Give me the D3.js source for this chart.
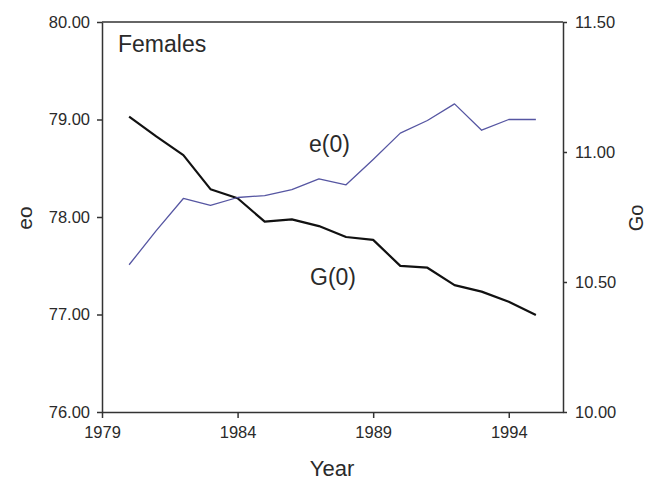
<!DOCTYPE html>
<html>
<head>
<meta charset="utf-8">
<script src="https://cdn.jsdelivr.net/npm/d3@7"></script>
<style>
  html, body { margin: 0; padding: 0; background: #fff; }
  svg { display: block; font-family: "Liberation Sans", Arial, sans-serif; }
</style>
</head>
<body>
<svg id="chart" width="646" height="481"></svg>
<script>
// Female life expectancy at birth e(0) and G(0), 1980–1995
const years = [1980, 1981, 1982, 1983, 1984, 1985, 1986, 1987, 1988, 1989, 1990, 1991, 1992, 1993, 1994, 1995];
const e0 = [77.51, 77.86, 78.19, 78.12, 78.20, 78.22, 78.28, 78.39, 78.33, 78.59, 78.86, 78.99, 79.16, 78.89, 79.00, 79.00];
const g0 = [11.136, 11.06, 10.988, 10.857, 10.822, 10.732, 10.741, 10.715, 10.673, 10.662, 10.562, 10.555, 10.488, 10.463, 10.424, 10.373];
const yearTicks = [1979, 1984, 1989, 1994];
const eTicks = [76, 77, 78, 79, 80];
const gTicks = [10.0, 10.5, 11.0, 11.5];

const svg = d3.select("#chart");
const plotLeft = 102, plotRight = 563, plotTop = 22, plotBottom = 412;
const axisColor = "#333";
const textColor = "#2a2a2a";

const x = d3.scaleLinear().domain([1979, 1996]).range([plotLeft, plotRight]);
const yE = d3.scaleLinear().domain([76, 80]).range([plotBottom, plotTop]);
const yG = d3.scaleLinear().domain([10, 11.5]).range([plotBottom, plotTop]);

function styleAxis(g) {
  g.selectAll("path, line").attr("stroke", axisColor).attr("stroke-width", 1.5);
  g.selectAll("text").attr("fill", textColor).attr("font-size", 16.5)
    .attr("font-family", "'Liberation Sans', Arial, sans-serif");
}

// bottom axis
svg.append("g").attr("transform", `translate(0,${plotBottom})`)
  .call(d3.axisBottom(x).tickValues(yearTicks).tickFormat(d3.format("d")).tickSizeInner(6).tickSizeOuter(0).tickPadding(8))
  .call(styleAxis);

// left axis
svg.append("g").attr("transform", `translate(${plotLeft},0)`)
  .call(d3.axisLeft(yE).tickValues(eTicks).tickFormat(d3.format(".2f")).tickSizeInner(5).tickSizeOuter(0).tickPadding(7))
  .call(styleAxis);

// right axis
svg.append("g").attr("transform", `translate(${plotRight},0)`)
  .call(d3.axisRight(yG).tickValues(gTicks).tickFormat(d3.format(".2f")).tickSizeInner(4).tickSizeOuter(0).tickPadding(8))
  .call(styleAxis);

// top frame line
svg.append("line")
  .attr("x1", plotLeft).attr("x2", plotRight).attr("y1", plotTop).attr("y2", plotTop)
  .attr("stroke", axisColor).attr("stroke-width", 1.5);

// series lines
const lineE = d3.line().x((d, i) => x(years[i])).y(d => yE(d));
const lineG = d3.line().x((d, i) => x(years[i])).y(d => yG(d));

svg.append("path").datum(g0)
  .attr("d", lineG).attr("fill", "none")
  .attr("stroke", "#111").attr("stroke-width", 2.2).attr("stroke-linejoin", "round");

svg.append("path").datum(e0)
  .attr("d", lineE).attr("fill", "none")
  .attr("stroke", "#5656a2").attr("stroke-width", 1.3).attr("stroke-linejoin", "round");

// annotations
svg.append("text").attr("x", 118).attr("y", 52).attr("font-size", 23).attr("fill", textColor).text("Females");
svg.append("text").attr("x", 309).attr("y", 152).attr("font-size", 23).attr("fill", textColor).text("e(0)");
svg.append("text").attr("x", 310).attr("y", 285).attr("font-size", 23).attr("fill", textColor).text("G(0)");

// axis titles
svg.append("text").attr("x", 332).attr("y", 476).attr("text-anchor", "middle")
  .attr("font-size", 22).attr("fill", textColor).text("Year");
svg.append("text").attr("transform", "translate(32,218) rotate(-90)").attr("text-anchor", "middle")
  .attr("font-size", 21).attr("fill", textColor).text("eo");
svg.append("text").attr("transform", "translate(643,218) rotate(-90)").attr("text-anchor", "middle")
  .attr("font-size", 20).attr("fill", textColor).text("Go");
</script>
</body>
</html>
